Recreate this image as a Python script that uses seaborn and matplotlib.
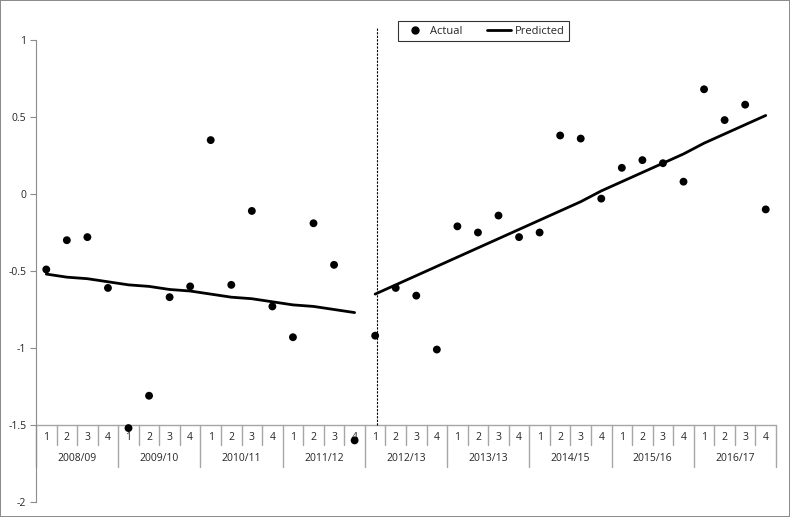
import numpy as np
import pandas as pd
import seaborn as sns
import matplotlib.pyplot as plt
from matplotlib.lines import Line2D

# --- data ---
years = ["2008/09", "2009/10", "2010/11", "2011/12", "2012/13",
         "2013/13", "2014/15", "2015/16", "2016/17"]
quarters = ["1", "2", "3", "4"]

actual = [-0.49, -0.30, -0.28, -0.61,
          -1.52, -1.31, -0.67, -0.60,
          0.35, -0.59, -0.11, -0.73,
          -0.93, -0.19, -0.46, -1.60,
          -0.92, -0.61, -0.66, -1.01,
          -0.21, -0.25, -0.14, -0.28,
          -0.25, 0.38, 0.36, -0.03,
          0.17, 0.22, 0.20, 0.08,
          0.68, 0.48, 0.58, -0.10]

# predicted: two separate trend segments (before / after 2012/13)
pred_before = [-0.52, -0.54, -0.55, -0.57, -0.59, -0.60, -0.62, -0.63,
               -0.65, -0.67, -0.68, -0.70, -0.72, -0.73, -0.75, -0.77]
pred_after = [-0.65, -0.59, -0.53, -0.47, -0.41, -0.35, -0.29, -0.23,
              -0.17, -0.11, -0.05, 0.02, 0.08, 0.14, 0.20, 0.26,
              0.33, 0.39, 0.45, 0.51]

n = len(actual)
df = pd.DataFrame({"idx": np.arange(n), "Actual": actual})
df_pb = pd.DataFrame({"idx": np.arange(len(pred_before)), "Predicted": pred_before})
df_pa = pd.DataFrame({"idx": np.arange(len(pred_before), n), "Predicted": pred_after})

sns.set_style("white")
plt.rcParams["font.family"] = ["Open Sans", "DejaVu Sans"]

fig = plt.figure(figsize=(7.9, 5.17), dpi=100, linewidth=1.2, edgecolor="#8c8c8c")
ax = fig.add_axes([36 / 790, 1 - 502 / 517, 740 / 790, 462 / 517])

sns.scatterplot(data=df, x="idx", y="Actual", ax=ax, color="black", s=32,
                edgecolor="none", zorder=4, clip_on=False)
sns.lineplot(data=df_pb, x="idx", y="Predicted", ax=ax, color="black", lw=2)
sns.lineplot(data=df_pa, x="idx", y="Predicted", ax=ax, color="black", lw=2)

ax.set_xlim(-0.5, n - 0.5)
ax.set_ylim(-2, 1)
ax.set_yticks([-2, -1.5, -1, -0.5, 0, 0.5, 1])
ax.set_yticklabels(["-2", "-1.5", "-1", "-0.5", "0", "0.5", "1"], fontsize=7.5)
ax.tick_params(axis="y", length=4, color="#8c8c8c", pad=3, left=True)
ax.set_xticks([])
ax.set_xlabel("")
ax.set_ylabel("")
for s in ["top", "right", "bottom"]:
    ax.spines[s].set_visible(False)
ax.spines["left"].set_color("#8c8c8c")

# category axis drawn at y = -1.5
grey = "#a6a6a6"
ax.plot([-0.5, n - 0.5], [-1.5, -1.5], color=grey, lw=1, clip_on=False)
for k in range(n + 1):
    bottom = -1.77 if k % 4 == 0 else -1.63
    ax.plot([k - 0.5, k - 0.5], [-1.5, bottom], color=grey, lw=1, clip_on=False)
for i in range(n):
    ax.text(i, -1.58, quarters[i % 4], ha="center", va="center", fontsize=7.5)
for j, yr in enumerate(years):
    ax.text(j * 4 + 1.5, -1.72, yr, ha="center", va="center", fontsize=7.5)

# break marker between the two periods
ax.plot([16.1, 16.1], [-1.5, 1.08], color="black", lw=0.8, ls=(0, (2, 1.2)),
        clip_on=False)

handles = [Line2D([], [], marker="o", color="black", ls="none", markersize=5),
           Line2D([], [], color="black", lw=2)]
leg = fig.legend(handles, ["Actual", "Predicted"], loc="center",
                 bbox_to_anchor=(483.5 / 790, 1 - 31 / 517), ncol=2,
                 frameon=True, fancybox=False, edgecolor="black",
                 fontsize=8, handlelength=2.2, columnspacing=2.2,
                 borderpad=0.4, handletextpad=0.3, borderaxespad=0)
leg.get_frame().set_linewidth(0.8)

fig.savefig("out.png", dpi=100)
